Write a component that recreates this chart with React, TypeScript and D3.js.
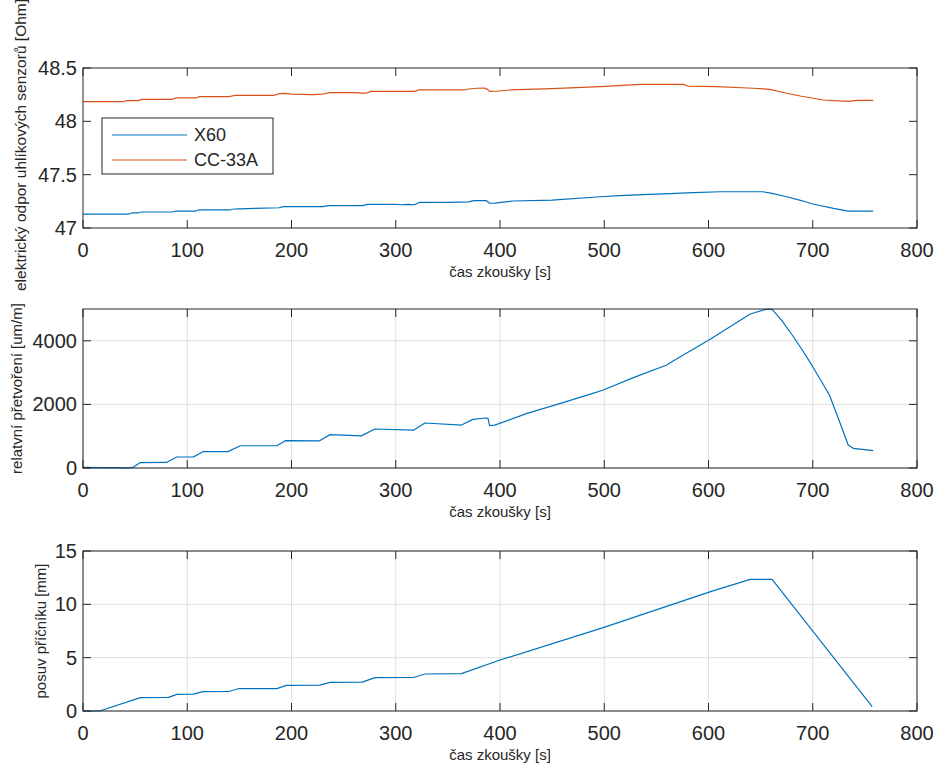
import React from "react";
import * as d3 from "d3";

// ---------- data ----------
const x60T = [0, 44, 47, 53, 56, 86, 89, 108, 111, 140, 145, 150, 188, 192, 230, 235, 268, 273, 300, 305, 312, 318, 323, 350, 370, 375, 387, 390, 395, 412, 450, 496, 515, 537, 563, 585, 611, 652, 661, 675, 690, 700, 720, 734, 758];
const x60V = [47.131, 47.131, 47.141, 47.141, 47.15, 47.15, 47.159, 47.159, 47.169, 47.169, 47.178, 47.18, 47.19, 47.2, 47.2, 47.209, 47.21, 47.222, 47.222, 47.218, 47.222, 47.218, 47.241, 47.241, 47.245, 47.256, 47.256, 47.232, 47.233, 47.253, 47.262, 47.293, 47.303, 47.312, 47.322, 47.331, 47.34, 47.34, 47.325, 47.293, 47.255, 47.225, 47.184, 47.159, 47.159];

const ccT = [0, 38, 42, 53, 56, 85, 89, 108, 112, 140, 146, 183, 188, 193, 200, 210, 220, 230, 237, 262, 266, 272, 276, 318, 322, 366, 370, 378, 385, 388, 390, 396, 410, 450, 496, 534, 576, 580, 608, 643, 659, 675, 688, 710, 734, 742, 758];
const ccV = [48.184, 48.184, 48.194, 48.194, 48.206, 48.206, 48.219, 48.219, 48.231, 48.231, 48.244, 48.244, 48.259, 48.262, 48.255, 48.252, 48.25, 48.256, 48.269, 48.269, 48.264, 48.265, 48.281, 48.281, 48.294, 48.294, 48.303, 48.31, 48.312, 48.3, 48.281, 48.282, 48.294, 48.306, 48.325, 48.347, 48.347, 48.331, 48.325, 48.31, 48.3, 48.263, 48.2375, 48.2, 48.188, 48.197, 48.197];

const strainT = [0, 20, 43, 48, 55, 80, 90, 106, 115, 139, 151, 186, 194, 227, 237, 267, 280, 317, 328, 363, 374, 386, 388.5, 390, 395, 426, 458, 489, 499, 528, 560, 566, 602, 640, 655, 661, 670, 681, 690, 700, 716, 726, 734, 739, 758];
const strainV = [20, 10, 5, 20, 170, 175, 346, 350, 513, 515, 700, 700, 860, 855, 1050, 1010, 1226, 1190, 1415, 1350, 1530, 1572, 1560, 1331, 1350, 1719, 2033, 2348, 2453, 2841, 3239, 3365, 4057, 4843, 4990, 4990, 4650, 4151, 3711, 3186, 2296, 1430, 723, 619, 545];

const dispT = [0, 16, 55, 82, 90, 106, 115, 140, 149, 186, 195, 227, 237, 268, 280, 317, 328, 363, 400, 499, 602, 640, 661, 757];
const dispV = [0, 0, 1.25, 1.28, 1.56, 1.58, 1.81, 1.83, 2.09, 2.1, 2.4, 2.42, 2.69, 2.71, 3.13, 3.14, 3.47, 3.5, 4.78, 7.81, 11.19, 12.34, 12.34, 0.41];

const xTicks = [0, 100, 200, 300, 400, 500, 600, 700, 800];
const topYTicks = [47, 47.5, 48, 48.5];
const midYTicks = [0, 2000, 4000];
const botYTicks = [0, 5, 10, 15];

const xLabel = "čas zkoušky [s]";
const topYLabel = "elektrický odpor uhlíkových senzorů [Ohm]";
const midYLabel = "relatvní přetvoření [um/m]";
const botYLabel = "posuv příčníku [mm]";
const legendNames = ["X60", "CC-33A"];

// ---------- style ----------
const BLUE = "#0072BD";
const ORANGE = "#D95319";
const AX = "#262626";
const GRID = "#dfdfdf";
const FONT = "'Liberation Sans', Arial, Helvetica, sans-serif";
const X0 = 83, X1 = 917;
const TICK = 8;

type Series = { t: number[]; v: number[]; color: string };

function Panel(props: {
  y0: number; y1: number; domain: [number, number]; yTicks: number[];
  series: Series[]; grid: boolean; yLabel: string; yLabelX: number; yLabelY?: number; yLabelSize?: number;
  fmt: (v: number) => string; children?: React.ReactNode;
}) {
  const { y0, y1, domain, yTicks, series, grid, yLabel, yLabelX, fmt } = props;
  const x = d3.scaleLinear().domain([0, 800]).range([X0, X1]);
  const y = d3.scaleLinear().domain(domain).range([y1, y0]);
  const clipId = `clip-${y0}`;
  const ly = props.yLabelY ?? (y0 + y1) / 2;
  return (
    <g>
      <defs>
        <clipPath id={clipId}>
          <rect x={X0} y={y0 - 1} width={X1 - X0} height={y1 - y0 + 2} />
        </clipPath>
      </defs>
      <rect x={X0} y={y0} width={X1 - X0} height={y1 - y0} fill="#fff" />
      {grid && (
        <g stroke={GRID} strokeWidth={1}>
          {xTicks.map((t) => (
            <line key={"gx" + t} x1={x(t)} x2={x(t)} y1={y0} y2={y1} />
          ))}
          {yTicks.map((t) => (
            <line key={"gy" + t} x1={X0} x2={X1} y1={y(t)} y2={y(t)} />
          ))}
        </g>
      )}
      <g clipPath={`url(#${clipId})`}>
        {series.map((s, i) => {
          const pts = s.t.map((t, k) => [t, s.v[k]] as [number, number]);
          const line = d3.line<[number, number]>().x((d) => x(d[0])).y((d) => y(d[1]));
          return <path key={i} d={line(pts) || ""} fill="none" stroke={s.color} strokeWidth={1.2} strokeLinejoin="round" />;
        })}
      </g>
      <g stroke={AX} strokeWidth={1}>
        {xTicks.map((t) => (
          <g key={"tx" + t}>
            <line x1={x(t)} x2={x(t)} y1={y1} y2={y1 - TICK} />
            <line x1={x(t)} x2={x(t)} y1={y0} y2={y0 + TICK} />
          </g>
        ))}
        {yTicks.map((t) => (
          <g key={"ty" + t}>
            <line x1={X0} x2={X0 + TICK} y1={y(t)} y2={y(t)} />
            <line x1={X1} x2={X1 - TICK} y1={y(t)} y2={y(t)} />
          </g>
        ))}
        <rect x={X0} y={y0} width={X1 - X0} height={y1 - y0} fill="none" />
      </g>
      <g fill={AX} fontFamily={FONT} fontSize={20}>
        {xTicks.map((t) => (
          <text key={"lx" + t} x={x(t)} y={y1 + 29} textAnchor="middle">{t}</text>
        ))}
        {yTicks.map((t) => (
          <text key={"ly" + t} x={77} y={y(t)} textAnchor="end" dominantBaseline="central">{fmt(t)}</text>
        ))}
      </g>
      <text x={(X0 + X1) / 2} y={y1 + 49} textAnchor="middle" fontFamily={FONT} fontSize={15} fill={AX}>{xLabel}</text>
      <text transform={`translate(${yLabelX},${ly}) rotate(-90)`} textAnchor="middle" fontFamily={FONT} fontSize={props.yLabelSize ?? 15} fill={AX}>{yLabel}</text>
      {props.children}
    </g>
  );
}

export default function App() {
  const colors = [BLUE, ORANGE];
  return (
    <svg width={941} height={769} style={{ position: "absolute", left: 0, top: 0, background: "#fff" }}>
      <rect width={941} height={769} fill="#fff" />
      <Panel y0={68} y1={228} domain={[47, 48.5]} yTicks={topYTicks} grid={false}
        series={[{ t: x60T, v: x60V, color: BLUE }, { t: ccT, v: ccV, color: ORANGE }]}
        yLabel={topYLabel} yLabelX={26} yLabelY={145} yLabelSize={15.5} fmt={(v) => String(v)}>
        <g>
          <rect x={102} y={118} width={171} height={56} fill="#fff" stroke={AX} strokeWidth={1} />
          {legendNames.map((n, i) => (
            <g key={n}>
              <line x1={112} x2={187} y1={135 + i * 25} y2={135 + i * 25} stroke={colors[i]} strokeWidth={1.2} />
              <text x={194} y={135 + i * 25} dominantBaseline="central" fontFamily={FONT} fontSize={18} fill={AX}>{n}</text>
            </g>
          ))}
        </g>
      </Panel>
      <Panel y0={309} y1={468} domain={[0, 5000]} yTicks={midYTicks} grid={true}
        series={[{ t: strainT, v: strainV, color: BLUE }]}
        yLabel={midYLabel} yLabelX={22} fmt={(v) => String(v)} />
      <Panel y0={551} y1={711} domain={[0, 15]} yTicks={botYTicks} grid={true}
        series={[{ t: dispT, v: dispV, color: BLUE }]}
        yLabel={botYLabel} yLabelX={46} fmt={(v) => String(v)} />
    </svg>
  );
}
